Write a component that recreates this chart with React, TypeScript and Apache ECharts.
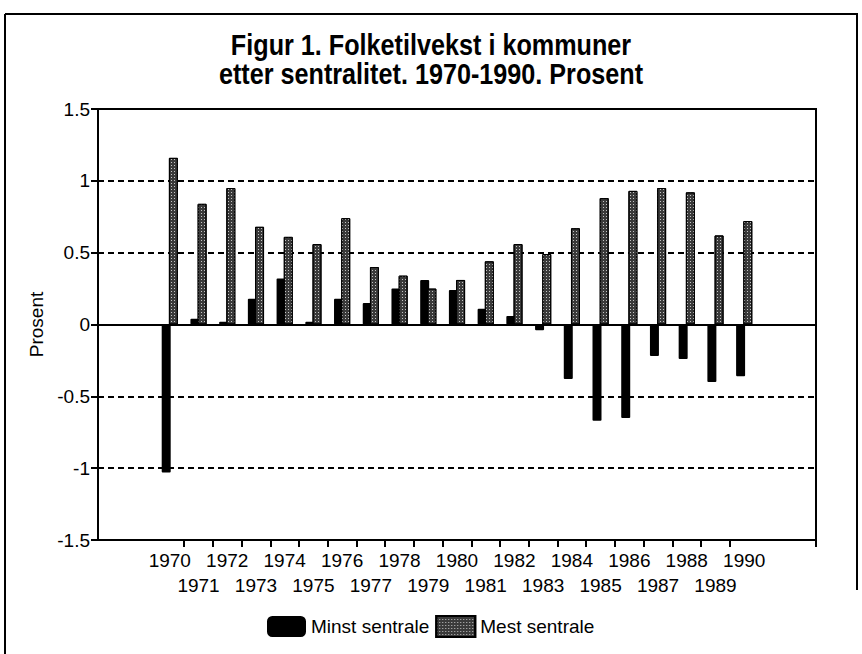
import React, { useEffect, useRef } from "react";
import * as echarts from "echarts";

const years = [
  "1970", "1971", "1972", "1973", "1974", "1975", "1976", "1977", "1978", "1979", "1980",
  "1981", "1982", "1983", "1984", "1985", "1986", "1987", "1988", "1989", "1990",
];
const minstSentrale = [
  -1.03, 0.04, 0.02, 0.18, 0.32, 0.02, 0.18, 0.15, 0.25, 0.31, 0.24,
  0.11, 0.06, -0.04, -0.38, -0.67, -0.65, -0.22, -0.24, -0.4, -0.36,
];
const mestSentrale = [
  1.16, 0.84, 0.95, 0.68, 0.61, 0.56, 0.74, 0.4, 0.34, 0.25, 0.31,
  0.44, 0.56, 0.49, 0.67, 0.88, 0.93, 0.95, 0.92, 0.62, 0.72,
];
const yTicks = [-1.5, -1, -0.5, 0, 0.5, 1, 1.5];
const titleLines = ["Figur 1. Folketilvekst i kommuner", "etter sentralitet. 1970-1990. Prosent"];
const yName = "Prosent";
const seriesNames = ["Minst sentrale", "Mest sentrale"];

const FONT = '"Liberation Sans", Arial, Helvetica, sans-serif';

export default function App() {
  const ref = useRef<HTMLDivElement>(null);
  useEffect(() => {
    if (!ref.current) return;
    const chart = echarts.init(ref.current, null, { renderer: "svg" });
    const padL = [" ", "  "];
    const padR = ["   ", "    "];
    const cats = [...padL, ...years, ...padR];
    const padData = (arr: number[]) => [...padL.map(() => "-"), ...arr, ...padR.map(() => "-")];
    const firstYearIdx = padL.length;
    const lastYearIdx = padL.length + years.length - 1;

    chart.setOption({
      animation: false,
      backgroundColor: "#fff",
      textStyle: { fontFamily: FONT, color: "#000" },
      legend: {
        left: 267,
        top: 615,
        padding: 0,
        itemGap: 6,
        itemWidth: 39,
        itemHeight: 21,
        data: [
          { name: seriesNames[0], icon: "roundRect" },
          { name: seriesNames[1], icon: "rect" },
        ],
        textStyle: { fontFamily: FONT, fontSize: 19, color: "#000" },
      },
      grid: {
        left: 98,
        right: 46,
        top: 109,
        bottom: 114,
        show: true,
        borderColor: "#000",
        borderWidth: 2,
        backgroundColor: "transparent",
      },
      xAxis: {
        type: "category",
        data: cats,
        boundaryGap: true,
        axisLine: { onZero: false, lineStyle: { color: "#000", width: 2 } },
        axisTick: {
          show: true,
          length: 7,
          lineStyle: { color: "#000", width: 2 },
          interval: (i: number) => i > firstYearIdx && i <= lastYearIdx,
        },
        axisLabel: {
          interval: 0,
          margin: 8,
          fontSize: 19,
          lineHeight: 25,
          color: "#000",
          fontFamily: FONT,
          formatter: (v: string) => {
            const t = v.trim();
            if (!t) return "";
            return Number(t) % 2 === 1 ? "\n" + t : t;
          },
        },
        splitLine: { show: false },
      },
      yAxis: {
        type: "value",
        min: yTicks[0],
        max: yTicks[yTicks.length - 1],
        interval: 0.5,
        name: yName,
        nameLocation: "middle",
        nameGap: 40,
        nameRotate: 90,
        nameTextStyle: { fontFamily: FONT, fontSize: 19, color: "#000" },
        axisLine: { show: true, lineStyle: { color: "#000", width: 2 } },
        axisTick: { show: true, length: 7, lineStyle: { color: "#000", width: 2 } },
        axisLabel: { margin: 8, fontSize: 19, color: "#000", fontFamily: FONT },
        splitLine: { show: true, lineStyle: { color: "#000", width: 2, type: [6, 4] } },
      },
      series: [
        {
          name: seriesNames[0],
          type: "bar",
          data: padData(minstSentrale),
          barWidth: 9,
          barGap: "-20%",
          itemStyle: { color: "#000", borderRadius: 1 },
          markLine: {
            silent: true,
            symbol: ["none", "none"],
            label: { show: false },
            lineStyle: { color: "#000", type: "solid", width: 2 },
            data: [{ yAxis: 0 }],
          },
        },
        {
          name: seriesNames[1],
          type: "bar",
          data: padData(mestSentrale),
          barWidth: 9,
          itemStyle: {
            color: "#3a3a3a",
            borderColor: "#000",
            borderWidth: 1,
            decal: {
              symbol: "rect",
              symbolSize: 1,
              color: "rgba(220,220,220,0.85)",
              dashArrayX: [1, 2],
              dashArrayY: [1, 2],
              rotation: 0,
            },
          },
        },
      ],
      graphic: [
        { type: "line", shape: { x1: 5, y1: 14, x2: 858, y2: 14 }, style: { stroke: "#000", lineWidth: 2 } },
        { type: "line", shape: { x1: 5, y1: 14, x2: 5, y2: 654 }, style: { stroke: "#000", lineWidth: 2 } },
        { type: "line", shape: { x1: 857, y1: 14, x2: 857, y2: 590 }, style: { stroke: "#000", lineWidth: 2 } },
        {
          type: "text",
          x: 431,
          y: 30,
          scaleX: 0.84,
          style: {
            text: titleLines[0],
            x: 0,
            y: 0,
            align: "center",
            verticalAlign: "top",
            font: 'bold 30px "Liberation Sans", Arial, sans-serif',
            fill: "#000",
          },
        },
        {
          type: "text",
          x: 431,
          y: 59,
          scaleX: 0.84,
          style: {
            text: titleLines[1],
            x: 0,
            y: 0,
            align: "center",
            verticalAlign: "top",
            font: 'bold 30px "Liberation Sans", Arial, sans-serif',
            fill: "#000",
          },
        },
      ],
    });
    return () => chart.dispose();
  }, []);
  return (
    <div
      ref={ref}
      style={{ position: "fixed", left: 0, top: 0, width: 862, height: 654, background: "#fff" }}
    />
  );
}
